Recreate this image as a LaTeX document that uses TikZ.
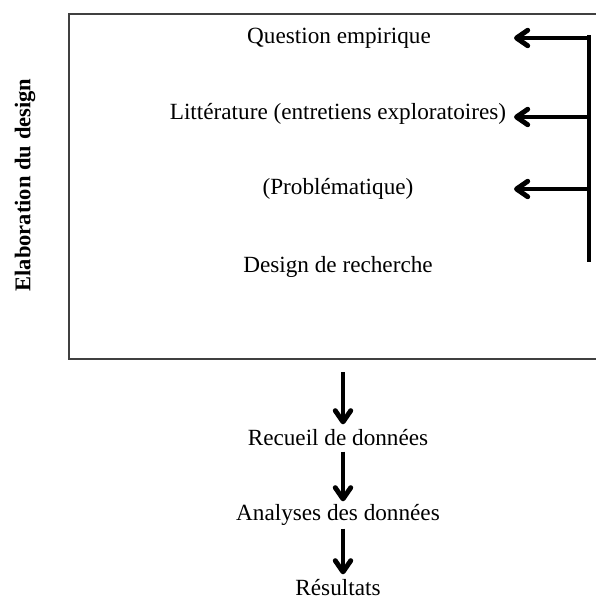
\documentclass[tikz,border=0pt]{standalone}
\usepackage{fontspec}
\setmainfont{Liberation Serif}
\usetikzlibrary{arrows.meta}

\begin{document}
\begin{tikzpicture}[x=0.025cm, y=-0.025cm,
    txt/.style={font=\fontsize{16.5}{20}\selectfont, inner sep=0pt, minimum height=19pt},
    thickarrow/.style={line width=3.5pt, -{Straight Barb[length=8pt,width=11pt,line cap=round,line join=round]}},
    bar/.style={line width=3.3pt}]
      \useasboundingbox (0,0) rectangle (595,599);
      % box round the design part
      \draw [line width=1.3pt, black!75] (596,14) -- (69,14) -- (69,359) -- (596,359);
      \coordinate (boxbot) at (343,359);
      \node [font=\fontsize{16}{19}\selectfont\bfseries, rotate=90] (elab) at (25,185) {Elaboration du design};
      \node [txt] (question) at (339,38) {Question empirique};
      \node [txt] (litt) at (338,114) {Littérature (entretiens exploratoires)};
      \node [txt] (probl) at (338,189) {(Problématique)};
      \node [txt] (design) at (338,267) {Design de recherche};
      % feedback bar on the right
      \coordinate (bartop) at (589,35);
      \coordinate (barbot) at (589,262);
      \draw [bar] (bartop) -- (barbot);
      \coordinate (qstart) at (589,38);
      \coordinate (qend) at (514,38);
      \coordinate (lstart) at (589,117);
      \coordinate (lend) at (514,117);
      \coordinate (pstart) at (589,189);
      \coordinate (pend) at (514,189);
      \draw [thickarrow] (qstart) -- (qend);
      \draw [thickarrow] (lstart) -- (lend);
      \draw [thickarrow] (pstart) -- (pend);
      % steps below the box
      \node [txt] (recueil) at (338,438) {Recueil de données};
      \node [txt] (analyses) at (338,515) {Analyses des données};
      \node [txt] (resultats) at (338,588) {Résultats};
      \draw [thickarrow, shorten <=13*0.7113pt] (boxbot) -- (recueil.north -| boxbot);
      \draw [thickarrow] (recueil.south -| boxbot) -- (analyses.north -| boxbot);
      \draw [thickarrow] (analyses.south -| boxbot) -- (resultats.north -| boxbot);
    \end{tikzpicture}
\end{document}
